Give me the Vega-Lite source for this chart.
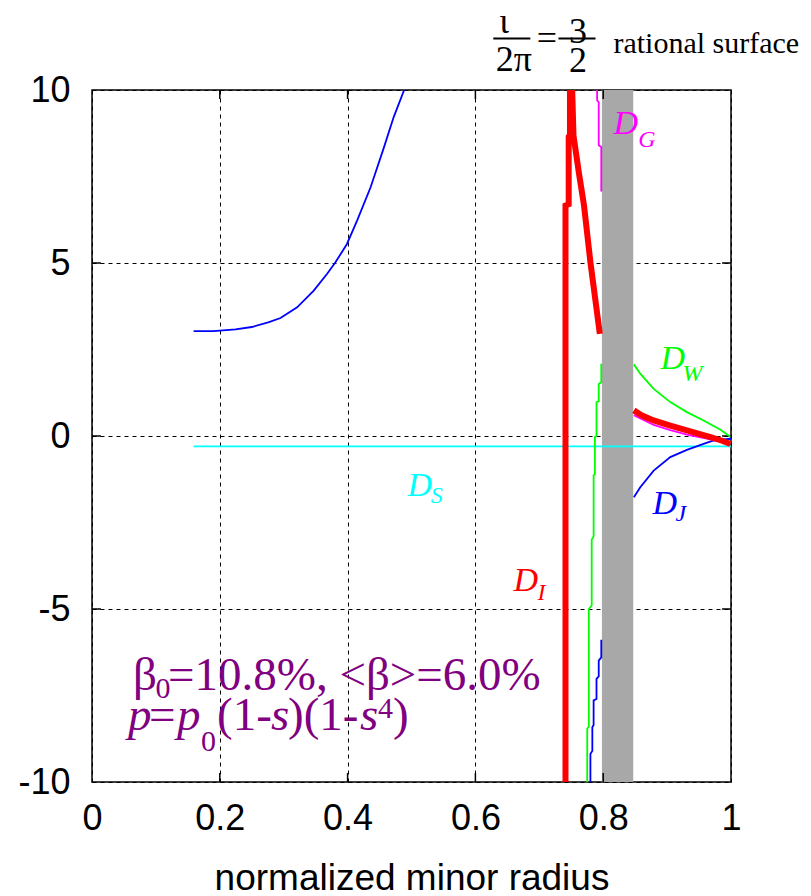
{
  "$schema": "https://vega.github.io/schema/vega-lite/v6.json",
  "width": 639,
  "height": 692,
  "autosize": "none",
  "padding": {"left": 92, "top": 90, "right": 80, "bottom": 114},
  "background": "white",
  "config": {"view": {"stroke": "black", "strokeWidth": 1.5}},
  "datasets": {
    "band": [{"x0": 0.798, "x1": 0.847, "y0": -10, "y1": 10}],
    "xTicks": [
      {"x": 0.2, "y": -10, "y2": -9.74}, {"x": 0.4, "y": -10, "y2": -9.74},
      {"x": 0.6, "y": -10, "y2": -9.74}, {"x": 0.8, "y": -10, "y2": -9.74},
      {"x": 0.2, "y": 10, "y2": 9.74}, {"x": 0.4, "y": 10, "y2": 9.74},
      {"x": 0.6, "y": 10, "y2": 9.74}, {"x": 0.8, "y": 10, "y2": 9.74}
    ],
    "yTicks": [
      {"y": -5, "x": 0, "x2": 0.014}, {"y": 0, "x": 0, "x2": 0.014}, {"y": 5, "x": 0, "x2": 0.014},
      {"y": -5, "x": 1, "x2": 0.986}, {"y": 0, "x": 1, "x2": 0.986}, {"y": 5, "x": 1, "x2": 0.986}
    ],
    "curves": [
      {"curve": "D_core", "seg": 1, "i": 1, "x": 0.159, "y": 3.03},
      {"curve": "D_core", "seg": 1, "i": 2, "x": 0.19, "y": 3.03},
      {"curve": "D_core", "seg": 1, "i": 3, "x": 0.2246, "y": 3.08},
      {"curve": "D_core", "seg": 1, "i": 4, "x": 0.25, "y": 3.15},
      {"curve": "D_core", "seg": 1, "i": 5, "x": 0.277, "y": 3.29},
      {"curve": "D_core", "seg": 1, "i": 6, "x": 0.295, "y": 3.41},
      {"curve": "D_core", "seg": 1, "i": 7, "x": 0.321, "y": 3.72},
      {"curve": "D_core", "seg": 1, "i": 8, "x": 0.347, "y": 4.2},
      {"curve": "D_core", "seg": 1, "i": 9, "x": 0.368, "y": 4.69},
      {"curve": "D_core", "seg": 1, "i": 10, "x": 0.381, "y": 5.02},
      {"curve": "D_core", "seg": 1, "i": 11, "x": 0.399, "y": 5.55},
      {"curve": "D_core", "seg": 1, "i": 12, "x": 0.415, "y": 6.23},
      {"curve": "D_core", "seg": 1, "i": 13, "x": 0.436, "y": 7.19},
      {"curve": "D_core", "seg": 1, "i": 14, "x": 0.457, "y": 8.35},
      {"curve": "D_core", "seg": 1, "i": 15, "x": 0.472, "y": 9.21},
      {"curve": "D_core", "seg": 1, "i": 16, "x": 0.4885, "y": 10.0},

      {"curve": "D_S", "seg": 1, "i": 1, "x": 0.159, "y": -0.3},
      {"curve": "D_S", "seg": 1, "i": 2, "x": 1.0, "y": -0.3},

      {"curve": "D_W", "seg": 1, "i": 1, "x": 0.775, "y": -10.2},
      {"curve": "D_W", "seg": 1, "i": 2, "x": 0.775, "y": -8.46},
      {"curve": "D_W", "seg": 1, "i": 3, "x": 0.7775, "y": -8.4},
      {"curve": "D_W", "seg": 1, "i": 4, "x": 0.7775, "y": -5.0},
      {"curve": "D_W", "seg": 1, "i": 5, "x": 0.782, "y": -4.9},
      {"curve": "D_W", "seg": 1, "i": 6, "x": 0.782, "y": -3.0},
      {"curve": "D_W", "seg": 1, "i": 7, "x": 0.785, "y": -2.9},
      {"curve": "D_W", "seg": 1, "i": 8, "x": 0.785, "y": -1.14},
      {"curve": "D_W", "seg": 1, "i": 9, "x": 0.787, "y": -1.1},
      {"curve": "D_W", "seg": 1, "i": 10, "x": 0.787, "y": -0.03},
      {"curve": "D_W", "seg": 1, "i": 11, "x": 0.7895, "y": 0.0},
      {"curve": "D_W", "seg": 1, "i": 12, "x": 0.7895, "y": 0.98},
      {"curve": "D_W", "seg": 1, "i": 13, "x": 0.793, "y": 1.0},
      {"curve": "D_W", "seg": 1, "i": 14, "x": 0.793, "y": 1.5},
      {"curve": "D_W", "seg": 1, "i": 15, "x": 0.797, "y": 1.55},
      {"curve": "D_W", "seg": 1, "i": 16, "x": 0.797, "y": 2.09},
      {"curve": "D_W", "seg": 2, "i": 1, "x": 0.848, "y": 2.07},
      {"curve": "D_W", "seg": 2, "i": 2, "x": 0.858, "y": 1.8},
      {"curve": "D_W", "seg": 2, "i": 3, "x": 0.879, "y": 1.36},
      {"curve": "D_W", "seg": 2, "i": 4, "x": 0.905, "y": 0.98},
      {"curve": "D_W", "seg": 2, "i": 5, "x": 0.931, "y": 0.69},
      {"curve": "D_W", "seg": 2, "i": 6, "x": 0.957, "y": 0.45},
      {"curve": "D_W", "seg": 2, "i": 7, "x": 0.9836, "y": 0.18},
      {"curve": "D_W", "seg": 2, "i": 8, "x": 0.999, "y": -0.02},

      {"curve": "D_J", "seg": 1, "i": 1, "x": 0.78, "y": -10.2},
      {"curve": "D_J", "seg": 1, "i": 2, "x": 0.78, "y": -9.19},
      {"curve": "D_J", "seg": 1, "i": 3, "x": 0.783, "y": -9.1},
      {"curve": "D_J", "seg": 1, "i": 4, "x": 0.783, "y": -8.42},
      {"curve": "D_J", "seg": 1, "i": 5, "x": 0.785, "y": -8.35},
      {"curve": "D_J", "seg": 1, "i": 6, "x": 0.785, "y": -7.64},
      {"curve": "D_J", "seg": 1, "i": 7, "x": 0.7895, "y": -7.6},
      {"curve": "D_J", "seg": 1, "i": 8, "x": 0.7895, "y": -7.02},
      {"curve": "D_J", "seg": 1, "i": 9, "x": 0.793, "y": -6.95},
      {"curve": "D_J", "seg": 1, "i": 10, "x": 0.793, "y": -6.49},
      {"curve": "D_J", "seg": 1, "i": 11, "x": 0.797, "y": -6.4},
      {"curve": "D_J", "seg": 1, "i": 12, "x": 0.797, "y": -5.89},
      {"curve": "D_J", "seg": 2, "i": 1, "x": 0.848, "y": -1.77},
      {"curve": "D_J", "seg": 2, "i": 2, "x": 0.858, "y": -1.48},
      {"curve": "D_J", "seg": 2, "i": 3, "x": 0.879, "y": -1.0},
      {"curve": "D_J", "seg": 2, "i": 4, "x": 0.905, "y": -0.61},
      {"curve": "D_J", "seg": 2, "i": 5, "x": 0.931, "y": -0.4},
      {"curve": "D_J", "seg": 2, "i": 6, "x": 0.957, "y": -0.23},
      {"curve": "D_J", "seg": 2, "i": 7, "x": 0.973, "y": -0.13},
      {"curve": "D_J", "seg": 2, "i": 8, "x": 1.0, "y": -0.08},

      {"curve": "D_G", "seg": 1, "i": 1, "x": 0.7905, "y": 10.2},
      {"curve": "D_G", "seg": 1, "i": 2, "x": 0.7905, "y": 9.7},
      {"curve": "D_G", "seg": 1, "i": 3, "x": 0.793, "y": 9.65},
      {"curve": "D_G", "seg": 1, "i": 4, "x": 0.793, "y": 8.4},
      {"curve": "D_G", "seg": 1, "i": 5, "x": 0.797, "y": 8.35},
      {"curve": "D_G", "seg": 1, "i": 6, "x": 0.797, "y": 7.07},
      {"curve": "D_G", "seg": 2, "i": 1, "x": 0.848, "y": 0.6},
      {"curve": "D_G", "seg": 2, "i": 2, "x": 0.879, "y": 0.32},
      {"curve": "D_G", "seg": 2, "i": 3, "x": 0.905, "y": 0.17},
      {"curve": "D_G", "seg": 2, "i": 4, "x": 0.931, "y": 0.04},
      {"curve": "D_G", "seg": 2, "i": 5, "x": 0.968, "y": -0.1},
      {"curve": "D_G", "seg": 2, "i": 6, "x": 0.999, "y": -0.22},

      {"curve": "D_I", "seg": 1, "i": 1, "x": 0.741, "y": -10.2},
      {"curve": "D_I", "seg": 1, "i": 2, "x": 0.741, "y": 6.66},
      {"curve": "D_I", "seg": 1, "i": 3, "x": 0.746, "y": 6.7},
      {"curve": "D_I", "seg": 1, "i": 4, "x": 0.746, "y": 8.65},
      {"curve": "D_I", "seg": 1, "i": 5, "x": 0.748, "y": 8.7},
      {"curve": "D_I", "seg": 1, "i": 6, "x": 0.748, "y": 10.3},
      {"curve": "D_I", "seg": 1, "i": 7, "x": 0.751, "y": 10.3},
      {"curve": "D_I", "seg": 1, "i": 8, "x": 0.7535, "y": 8.68},
      {"curve": "D_I", "seg": 1, "i": 9, "x": 0.762, "y": 7.6},
      {"curve": "D_I", "seg": 1, "i": 10, "x": 0.77, "y": 6.66},
      {"curve": "D_I", "seg": 1, "i": 11, "x": 0.78, "y": 5.02},
      {"curve": "D_I", "seg": 1, "i": 12, "x": 0.788, "y": 3.9},
      {"curve": "D_I", "seg": 1, "i": 13, "x": 0.7947, "y": 2.95},
      {"curve": "D_I", "seg": 2, "i": 1, "x": 0.848, "y": 0.74},
      {"curve": "D_I", "seg": 2, "i": 2, "x": 0.86, "y": 0.6},
      {"curve": "D_I", "seg": 2, "i": 3, "x": 0.879, "y": 0.45},
      {"curve": "D_I", "seg": 2, "i": 4, "x": 0.905, "y": 0.3},
      {"curve": "D_I", "seg": 2, "i": 5, "x": 0.931, "y": 0.16},
      {"curve": "D_I", "seg": 2, "i": 6, "x": 0.95, "y": 0.06},
      {"curve": "D_I", "seg": 2, "i": 7, "x": 0.968, "y": -0.03},
      {"curve": "D_I", "seg": 2, "i": 8, "x": 0.985, "y": -0.13},
      {"curve": "D_I", "seg": 2, "i": 9, "x": 0.999, "y": -0.23}
    ],
    "curveLabels": [
      {"curve": "D_G", "sub": "G", "x": 0.816, "y": 8.74, "sx": 0.855, "sy": 8.34},
      {"curve": "D_W", "sub": "W", "x": 0.8897, "y": 1.95, "sx": 0.924, "sy": 1.6},
      {"curve": "D_J", "sub": "J", "x": 0.877, "y": -2.24, "sx": 0.913, "sy": -2.47},
      {"curve": "D_I", "sub": "I", "x": 0.6596, "y": -4.47, "sx": 0.697, "sy": -4.75},
      {"curve": "D_S", "sub": "S", "x": 0.4937, "y": -1.72, "sx": 0.53, "sy": -1.95}
    ],
    "fracText": [
      {"t": "ι", "x": 0.6448, "y": 11.66},
      {"t": "2π", "x": 0.66, "y": 10.56},
      {"t": "=", "x": 0.712, "y": 11.17},
      {"t": "3", "x": 0.7606, "y": 11.37},
      {"t": "2", "x": 0.7606, "y": 10.51}
    ],
    "fracBars": [
      {"x": 0.628, "x2": 0.686, "y": 11.49},
      {"x": 0.73, "x2": 0.788, "y": 11.49}
    ],
    "surfaceText": [{"t": "rational surface", "x": 0.816, "y": 11.06}],
    "formulaUpright": [
      {"t": "β", "x": 0.0642, "y": -7.355},
      {"t": "=10.8%, <β>=6.0%", "x": 0.1189, "y": -7.355},
      {"t": "=", "x": 0.0892, "y": -8.51},
      {"t": "(1-", "x": 0.1956, "y": -8.51},
      {"t": ")(1-", "x": 0.3067, "y": -8.51},
      {"t": ")", "x": 0.471, "y": -8.51}
    ],
    "formulaItalic": [
      {"t": "p", "x": 0.0563, "y": -8.51},
      {"t": "p", "x": 0.133, "y": -8.51},
      {"t": "s", "x": 0.2801, "y": -8.51},
      {"t": "s", "x": 0.4194, "y": -8.51}
    ],
    "formulaSmall": [
      {"t": "0", "x": 0.0994, "y": -7.56},
      {"t": "0", "x": 0.1706, "y": -9.1},
      {"t": "4", "x": 0.4476, "y": -8.14}
    ]
  },
  "layer": [
    {
      "data": {"name": "band"},
      "mark": {"type": "rect", "color": "#a8a8a8"},
      "encoding": {
        "x": {
          "field": "x0", "type": "quantitative",
          "scale": {"domain": [0, 1], "nice": false, "zero": false},
          "axis": {
            "orient": "bottom", "values": [0, 0.2, 0.4, 0.6, 0.8, 1],
            "labelExpr": "'' + datum.value",
            "labelFont": "Liberation Sans", "labelFontSize": 36, "labelColor": "black",
            "labelPadding": 19, "labelFlush": false, "labelOverlap": false,
            "ticks": false, "domain": false,
            "grid": true, "gridColor": "black", "gridDash": [4, 4], "gridWidth": 1, "gridOpacity": 1,
            "title": "normalized minor radius",
            "titleFont": "Liberation Sans", "titleFontSize": 37, "titleFontWeight": "normal",
            "titleColor": "black", "titlePadding": 24
          }
        },
        "x2": {"field": "x1"},
        "y": {
          "field": "y0", "type": "quantitative",
          "scale": {"domain": [-10, 10], "nice": false, "zero": false},
          "axis": {
            "orient": "left", "values": [-10, -5, 0, 5, 10],
            "labelExpr": "'' + datum.value",
            "labelFont": "Liberation Sans", "labelFontSize": 36, "labelColor": "black",
            "labelPadding": 22, "labelFlush": false, "labelOverlap": false,
            "ticks": false, "domain": false,
            "grid": true, "gridColor": "black", "gridDash": [4, 4], "gridWidth": 1, "gridOpacity": 1,
            "title": null
          }
        },
        "y2": {"field": "y1"}
      }
    },
    {
      "data": {"name": "xTicks"},
      "mark": {"type": "rule", "color": "black", "strokeWidth": 1.5},
      "encoding": {
        "x": {"field": "x", "type": "quantitative"},
        "y": {"field": "y", "type": "quantitative"},
        "y2": {"field": "y2"}
      }
    },
    {
      "data": {"name": "yTicks"},
      "mark": {"type": "rule", "color": "black", "strokeWidth": 1.5},
      "encoding": {
        "x": {"field": "x", "type": "quantitative"},
        "x2": {"field": "x2"},
        "y": {"field": "y", "type": "quantitative"}
      }
    },
    {
      "data": {"name": "curves"},
      "transform": [{"filter": "datum.curve !== 'D_I'"}],
      "mark": {"type": "line", "clip": true, "interpolate": "linear", "strokeWidth": 1.8},
      "encoding": {
        "x": {"field": "x", "type": "quantitative"},
        "y": {"field": "y", "type": "quantitative"},
        "detail": {"field": "seg"},
        "order": {"field": "i", "type": "quantitative"},
        "color": {
          "field": "curve", "type": "nominal", "legend": null,
          "scale": {
            "domain": ["D_core", "D_S", "D_W", "D_J", "D_G", "D_I"],
            "range": ["#0000ff", "#00ffff", "#00ff00", "#0000ff", "#ff00ff", "#ff0000"]
          }
        }
      }
    },
    {
      "data": {"name": "curves"},
      "transform": [{"filter": "datum.curve === 'D_I'"}],
      "mark": {"type": "line", "clip": true, "interpolate": "linear", "strokeWidth": 6},
      "encoding": {
        "x": {"field": "x", "type": "quantitative"},
        "y": {"field": "y", "type": "quantitative"},
        "detail": {"field": "seg"},
        "order": {"field": "i", "type": "quantitative"},
        "color": {"field": "curve", "type": "nominal", "legend": null}
      }
    },
    {
      "data": {"name": "curveLabels"},
      "mark": {"type": "text", "font": "Liberation Serif", "fontStyle": "italic", "fontSize": 34, "align": "left", "baseline": "alphabetic"},
      "encoding": {
        "x": {"field": "x", "type": "quantitative"},
        "y": {"field": "y", "type": "quantitative"},
        "text": {"value": "D"},
        "color": {"field": "curve", "type": "nominal", "legend": null}
      }
    },
    {
      "data": {"name": "curveLabels"},
      "mark": {"type": "text", "font": "Liberation Serif", "fontStyle": "italic", "fontSize": 24, "align": "left", "baseline": "alphabetic"},
      "encoding": {
        "x": {"field": "sx", "type": "quantitative"},
        "y": {"field": "sy", "type": "quantitative"},
        "text": {"field": "sub"},
        "color": {"field": "curve", "type": "nominal", "legend": null}
      }
    },
    {
      "data": {"name": "fracText"},
      "mark": {"type": "text", "font": "Liberation Serif", "fontSize": 36, "align": "center", "baseline": "alphabetic", "color": "black"},
      "encoding": {
        "x": {"field": "x", "type": "quantitative"},
        "y": {"field": "y", "type": "quantitative"},
        "text": {"field": "t"}
      }
    },
    {
      "data": {"name": "fracBars"},
      "mark": {"type": "rule", "color": "black", "strokeWidth": 2},
      "encoding": {
        "x": {"field": "x", "type": "quantitative"},
        "x2": {"field": "x2"},
        "y": {"field": "y", "type": "quantitative"}
      }
    },
    {
      "data": {"name": "surfaceText"},
      "mark": {"type": "text", "font": "Liberation Serif", "fontSize": 30, "align": "left", "baseline": "alphabetic", "color": "black"},
      "encoding": {
        "x": {"field": "x", "type": "quantitative"},
        "y": {"field": "y", "type": "quantitative"},
        "text": {"field": "t"}
      }
    },
    {
      "data": {"name": "formulaUpright"},
      "mark": {"type": "text", "font": "Liberation Serif", "fontSize": 47, "align": "left", "baseline": "alphabetic", "color": "#800080"},
      "encoding": {
        "x": {"field": "x", "type": "quantitative"},
        "y": {"field": "y", "type": "quantitative"},
        "text": {"field": "t"}
      }
    },
    {
      "data": {"name": "formulaItalic"},
      "mark": {"type": "text", "font": "Liberation Serif", "fontStyle": "italic", "fontSize": 47, "align": "left", "baseline": "alphabetic", "color": "#800080"},
      "encoding": {
        "x": {"field": "x", "type": "quantitative"},
        "y": {"field": "y", "type": "quantitative"},
        "text": {"field": "t"}
      }
    },
    {
      "data": {"name": "formulaSmall"},
      "mark": {"type": "text", "font": "Liberation Serif", "fontSize": 30, "align": "left", "baseline": "alphabetic", "color": "#800080"},
      "encoding": {
        "x": {"field": "x", "type": "quantitative"},
        "y": {"field": "y", "type": "quantitative"},
        "text": {"field": "t"}
      }
    }
  ]
}
